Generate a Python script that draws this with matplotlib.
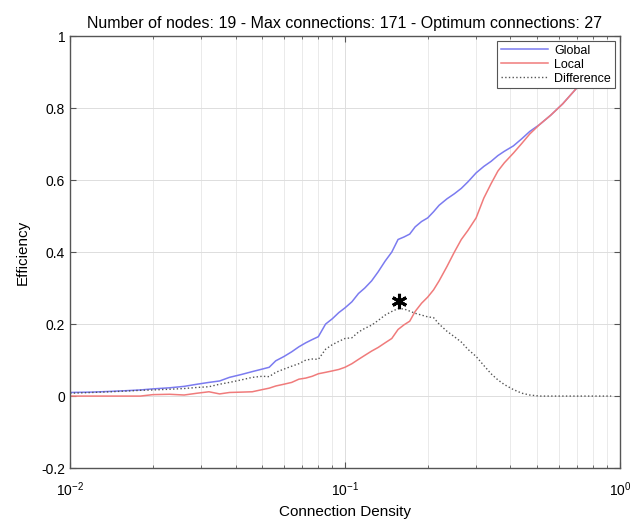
import matplotlib
matplotlib.use('Agg')
import matplotlib.pyplot as plt
from matplotlib.ticker import LogLocator, FixedLocator, NullFormatter

plt.rcParams['font.family'] = ['Liberation Sans', 'DejaVu Sans']

# 网络效率随连接密度变化
density = [0.010, 0.012, 0.014, 0.016, 0.018, 0.020, 0.023, 0.026, 0.029, 0.032,
           0.035, 0.038, 0.042, 0.046, 0.050, 0.053, 0.056, 0.060, 0.064, 0.068,
           0.072, 0.076, 0.080, 0.085, 0.090, 0.095, 0.100, 0.106, 0.112, 0.118,
           0.125, 0.132, 0.140, 0.148, 0.156, 0.164, 0.172, 0.180, 0.190, 0.200,
           0.210, 0.220, 0.235, 0.250, 0.265, 0.280, 0.300, 0.320, 0.340, 0.360,
           0.380, 0.410, 0.440, 0.470, 0.510, 0.560, 0.620, 0.690, 0.760, 0.840, 0.930]
global_eff = [0.010, 0.011, 0.013, 0.015, 0.017, 0.020, 0.023, 0.027, 0.033, 0.038,
              0.042, 0.052, 0.060, 0.068, 0.075, 0.080, 0.098, 0.110, 0.123, 0.137,
              0.148, 0.157, 0.165, 0.200, 0.215, 0.232, 0.245, 0.262, 0.285, 0.300,
              0.320, 0.345, 0.375, 0.400, 0.435, 0.442, 0.450, 0.470, 0.485, 0.495,
              0.512, 0.530, 0.548, 0.562, 0.577, 0.595, 0.620, 0.638, 0.652, 0.668,
              0.680, 0.695, 0.715, 0.735, 0.754, 0.780, 0.812, 0.852, 0.890, 0.925, 0.960]
local_eff = [0.000, 0.000, 0.000, 0.000, 0.000, 0.004, 0.005, 0.003, 0.008, 0.012,
             0.006, 0.010, 0.011, 0.012, 0.018, 0.022, 0.028, 0.033, 0.038, 0.047,
             0.050, 0.055, 0.062, 0.066, 0.070, 0.074, 0.080, 0.090, 0.102, 0.113,
             0.125, 0.135, 0.148, 0.160, 0.185, 0.198, 0.208, 0.235, 0.258, 0.275,
             0.295, 0.320, 0.360, 0.400, 0.435, 0.460, 0.495, 0.550, 0.590, 0.625,
             0.648, 0.675, 0.702, 0.728, 0.754, 0.780, 0.812, 0.852, 0.890, 0.925, 0.960]
diff_eff = [0.008, 0.010, 0.012, 0.014, 0.016, 0.017, 0.019, 0.021, 0.024, 0.026,
            0.033, 0.038, 0.045, 0.052, 0.055, 0.054, 0.066, 0.075, 0.083, 0.090,
            0.100, 0.103, 0.102, 0.130, 0.143, 0.152, 0.160, 0.162, 0.178, 0.188,
            0.197, 0.210, 0.225, 0.235, 0.243, 0.242, 0.236, 0.230, 0.225, 0.220,
            0.218, 0.200, 0.180, 0.165, 0.150, 0.130, 0.110, 0.085, 0.062, 0.045,
            0.032, 0.018, 0.008, 0.003, 0.000, 0.000, 0.000, 0.000, 0.000, 0.000, 0.000]

n_nodes = 19
max_conn = 171
opt_conn = 27
opt_y = 0.265

fig = plt.figure(figsize=(6.43, 5.23), dpi=100)
ax = fig.add_axes([0.109, 0.105, 0.855, 0.826])

ax.plot(density, global_eff, color='#7b7bf0', linewidth=1.1, label='Global')
ax.plot(density, local_eff, color='#f07b7b', linewidth=1.1, label='Local')
ax.plot(density, diff_eff, color='#555555', linewidth=1.0, linestyle=':', label='Difference')

# 最优连接点
ax.plot([opt_conn / max_conn], [opt_y], linestyle='none', marker=(6, 2, 0),
        markersize=11, markeredgewidth=2.2, color='black')

ax.set_xscale('log')
ax.set_xlim(0.01, 1)
ax.set_ylim(-0.2, 1)
ax.xaxis.set_major_locator(LogLocator(base=10, numticks=5))
ax.xaxis.set_minor_locator(LogLocator(base=10, subs=range(2, 10), numticks=20))
ax.xaxis.set_minor_formatter(NullFormatter())
ax.yaxis.set_major_locator(FixedLocator([-0.2, 0, 0.2, 0.4, 0.6, 0.8, 1.0]))
ax.set_yticklabels(['-0.2', '0', '0.2', '0.4', '0.6', '0.8', '1'])

ax.grid(True, which='major', color='#dddddd', linewidth=0.7)
ax.grid(True, which='minor', axis='x', color='#e6e6e6', linewidth=0.6)
ax.tick_params(which='both', direction='in', top=True, right=True,
               color='#555555', labelsize=10)
ax.tick_params(which='major', length=4)
ax.tick_params(which='minor', length=2.5)
ax.tick_params(axis='x', which='major', pad=9)
for s in ax.spines.values():
    s.set_color('#555555')
    s.set_linewidth(1.0)

ax.set_xlabel('Connection Density', fontsize=11, labelpad=4)
ax.set_ylabel('Efficiency', fontsize=11, labelpad=8)
ax.set_title(f'Number of nodes: {n_nodes} - Max connections: {max_conn} - '
             f'Optimum connections: {opt_conn}', fontsize=11.5, pad=6)

leg = ax.legend(loc='upper right', fontsize=9, fancybox=False, framealpha=1,
                edgecolor='#555555', handlelength=3.8, borderpad=0.3,
                labelspacing=0.15, borderaxespad=0.4, handletextpad=0.5)
leg.get_frame().set_linewidth(0.8)

plt.savefig('out.png', dpi=100, facecolor='white')
plt.close()
